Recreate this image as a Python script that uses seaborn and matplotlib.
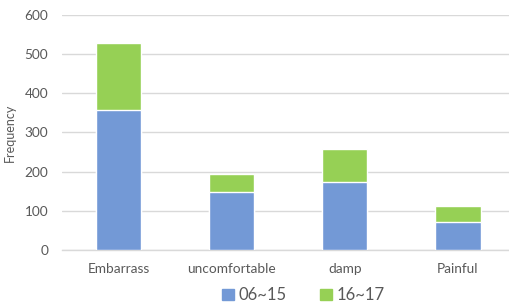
import matplotlib
matplotlib.use("Agg")
import matplotlib.pyplot as plt
import matplotlib.patches as mpatches
import seaborn as sns
import pandas as pd

# data
categories = ["Embarrass", "uncomfortable", "damp", "Painful"]
vals_06_15 = [358, 147, 174, 72]
vals_16_17 = [170, 48, 84, 41]

blue = "#7399D6"
green = "#96D055"
text_col = "#595959"
grid_col = "#D9D9D9"

sns.set_theme(style="white")
plt.rcParams["font.family"] = ["Lato", "DejaVu Sans"]

df = pd.DataFrame({
    "cat": categories,
    "low": vals_06_15,
    "total": [a + b for a, b in zip(vals_06_15, vals_16_17)],
})

fig = plt.figure(figsize=(5.1, 3.06), dpi=100)
ax = fig.add_axes([0.1216, 0.183, 0.8784, 0.768])

# stacked: draw totals in green, lower segment in blue on top
sns.barplot(data=df, x="cat", y="total", color=green, width=0.4,
            saturation=1, ax=ax, zorder=2)
sns.barplot(data=df, x="cat", y="low", color=blue, width=0.4,
            saturation=1, ax=ax, zorder=3)

ax.set_ylim(0, 600)
ax.set_xlim(-0.5, 3.46)
ax.set_yticks([0, 100, 200, 300, 400, 500, 600])
ax.yaxis.grid(True, color=grid_col, lw=1)
ax.set_axisbelow(True)
for s in ["top", "right", "left"]:
    ax.spines[s].set_visible(False)
ax.spines["bottom"].set_color(grid_col)
ax.spines["bottom"].set_linewidth(1)
ax.tick_params(axis="both", length=0, colors=text_col, labelsize=9.8)
ax.tick_params(axis="y", pad=10)
ax.tick_params(axis="x", pad=9)
ax.set_xlabel("")
ax.set_ylabel("Frequency", color=text_col, fontsize=9, labelpad=6)

handles = [mpatches.Patch(color=blue, label="06~15"),
           mpatches.Patch(color=green, label="16~17")]
fig.legend(handles=handles, loc="lower center", bbox_to_anchor=(0.595, -0.04),
           ncol=2, frameon=False, fontsize=12, handlelength=0.7,
           handleheight=0.7, handletextpad=0.3, columnspacing=2.0,
           labelcolor=text_col)

fig.savefig("out.png", dpi=100)
